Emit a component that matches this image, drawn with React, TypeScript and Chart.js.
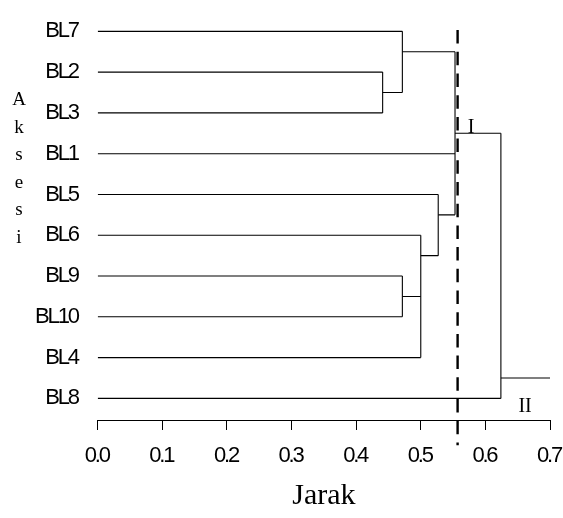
import React, { useEffect, useRef } from "react";
import { Chart, registerables } from "chart.js";

Chart.register(...registerables);

// Leaves in plotted order (top to bottom)
const leaves = ["BL7", "BL2", "BL3", "BL1", "BL5", "BL6", "BL9", "BL10", "BL4", "BL8"];
// Distance at which each leaf joins its first cluster
const leafJoinHeight = [0.4715, 0.441, 0.441, 0.553, 0.527, 0.5, 0.4715, 0.4715, 0.5, 0.624];

// Internal nodes: height, vertical span (leaf-row units), row of outgoing branch, parent height
const mergeHeight = [0.441, 0.4715, 0.4715, 0.5, 0.527, 0.553, 0.624];
const mergeLow = [1, 0, 6, 5, 4, 0.5, 2.5];
const mergeHigh = [2, 1.5, 7, 8, 5.5, 4.5, 9];
const mergeAt = [1.5, 0.5, 6.5, 5.5, 4.5, 2.5, 8.5];
const mergeParentHeight = [0.4715, 0.553, 0.5, 0.527, 0.553, 0.624, 0.7];

// Cut-off distance (dashed line)
const cutHeight = 0.557;

const xTicks = [0, 0.1, 0.2, 0.3, 0.4, 0.5, 0.6, 0.7];
const clusterLabels = ["I", "II"];
const yAxisTitle = "Aksesi";
const xAxisTitle = "Jarak";

export default function App() {
  const ref = useRef<HTMLCanvasElement>(null);

  useEffect(() => {
    const canvas = ref.current;
    if (!canvas) return;

    const segs: { x: number; y: number }[][] = [];
    leaves.forEach((_, i) => {
      segs.push([
        { x: 0, y: i },
        { x: leafJoinHeight[i], y: i },
      ]);
    });
    mergeHeight.forEach((h, k) => {
      segs.push([
        { x: h, y: mergeLow[k] },
        { x: h, y: mergeHigh[k] },
      ]);
      segs.push([
        { x: h, y: mergeAt[k] },
        { x: mergeParentHeight[k], y: mergeAt[k] },
      ]);
    });

    const datasets: any[] = segs.map((d) => ({
      data: d,
      borderColor: "#000",
      borderWidth: 1.1,
      pointRadius: 0,
      showLine: true,
      tension: 0,
    }));
    datasets.push({
      data: [
        { x: cutHeight, y: -0.03 },
        { x: cutHeight, y: 10.15 },
      ],
      borderColor: "#000",
      borderWidth: 2.4,
      borderDash: [13.5, 8.2],
      pointRadius: 0,
      showLine: true,
      clip: false,
    });

    const textPlugin = {
      id: "dendroText",
      beforeDraw(chart: any) {
        chart.ctx.letterSpacing = "0px";
      },
      afterDatasetsDraw(chart: any) {
        // tight sans-serif tick labels
        chart.ctx.letterSpacing = "-2.2px";
      },
      afterDraw(chart: any) {
        const ctx = chart.ctx;
        const xs = chart.scales.x;
        const ys = chart.scales.y;
        ctx.save();
        ctx.letterSpacing = "0px";
        ctx.fillStyle = "#000";
        ctx.textBaseline = "alphabetic";
        ctx.textAlign = "center";
        ctx.font = "20px 'Liberation Serif'";
        ctx.fillText(clusterLabels[0], xs.getPixelForValue(0.578), ys.getPixelForValue(2.5) - 0.5);
        ctx.fillText(clusterLabels[1], xs.getPixelForValue(0.6615), ys.getPixelForValue(9.33));
        ctx.font = "19px 'Liberation Serif'";
        yAxisTitle.split("").forEach((ch, k) => {
          ctx.fillText(ch, 19, 105 + 27.6 * k);
        });
        ctx.restore();
        ctx.letterSpacing = "0px";
      },
    };

    const chart = new Chart(canvas, {
      type: "scatter",
      data: { datasets },
      options: {
        responsive: false,
        animation: false,
        layout: { padding: { left: 0, right: 13, top: 19.1, bottom: 0 } },
        plugins: { legend: { display: false }, tooltip: { enabled: false } },
        scales: {
          x: {
            type: "linear",
            min: 0,
            max: 0.7,
            afterBuildTicks: (s: any) => {
              s.ticks = xTicks.map((v) => ({ value: v }));
            },
            afterFit: (s: any) => {
              s.height = 98;
              s.paddingLeft = 0;
              s.paddingRight = 0;
            },
            grid: {
              display: true,
              drawOnChartArea: false,
              drawTicks: true,
              tickLength: 10,
              color: "#000",
              lineWidth: 1,
            },
            border: { display: true, color: "#000", width: 1 },
            ticks: {
              z: 1,
              color: "#000",
              font: { family: "'Liberation Sans'", size: 22 },
              padding: 13,
              labelOffset: -1,
              maxRotation: 0,
              autoSkip: false,
              callback: (v: any) => Number(v).toFixed(1),
            },
            title: {
              display: true,
              text: xAxisTitle,
              color: "#000",
              font: { family: "'Liberation Serif'", size: 30, lineHeight: 1 },
              padding: { top: 0, bottom: 7 },
            },
          },
          y: {
            type: "linear",
            reverse: true,
            min: -0.3,
            max: 9.53,
            afterBuildTicks: (s: any) => {
              s.ticks = leaves.map((_, i) => ({ value: i }));
            },
            afterFit: (s: any) => {
              s.width = 97.7;
              s.paddingTop = 0;
              s.paddingBottom = 0;
            },
            grid: { display: false, drawTicks: false, tickLength: 0 },
            border: { display: false },
            ticks: {
              z: 1,
              color: "#000",
              font: { family: "'Liberation Sans'", size: 22 },
              padding: 20,
              autoSkip: false,
              callback: (v: any) => leaves[Math.round(Number(v))] ?? "",
            },
          },
        },
      },
      plugins: [textPlugin],
    } as any);

    return () => chart.destroy();
  }, []);

  return (
    <div style={{ position: "fixed", left: 0, top: 0, width: 563, height: 518, background: "#fff" }}>
      <canvas ref={ref} width={563} height={518} style={{ display: "block" }} />
    </div>
  );
}
